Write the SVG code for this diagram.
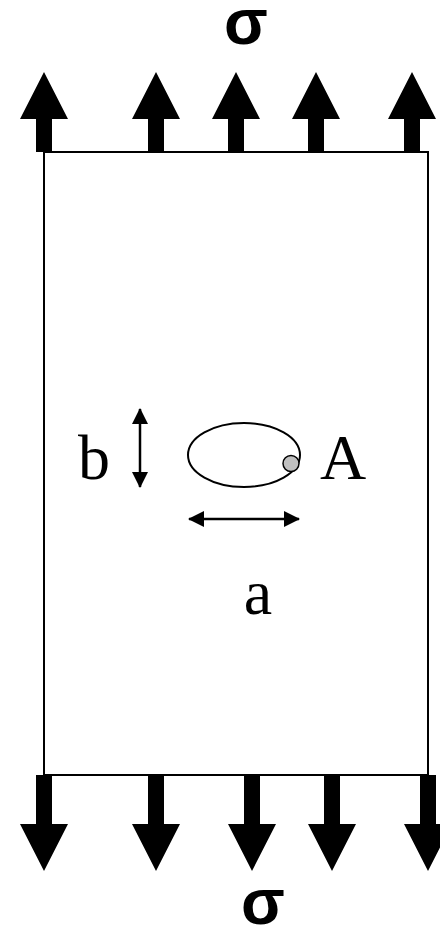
<svg xmlns="http://www.w3.org/2000/svg" width="440" height="926" viewBox="0 0 440 926">
<style>
.ser{font-family:"Liberation Serif","Times New Roman",serif;font-size:64px;fill:#000}
.sig{font-family:"Liberation Sans",Arial,sans-serif;font-weight:bold;font-size:64px;fill:#000;text-anchor:middle}
.dim{stroke:#000;stroke-width:2.5;fill:none}
</style>
<defs>
<path id="up" d="M-8,80 V47 H-24 L0,0 L24,47 H8 V80 Z" fill="#000"/>
<path id="dn" d="M-8,0 V49 H-24 L0,96 L24,49 H8 V0 Z" fill="#000"/>
<marker id="ah" viewBox="0 0 16 16" refX="15" refY="8" markerWidth="16" markerHeight="16" markerUnits="userSpaceOnUse" orient="auto-start-reverse">
<path d="M0,0 L16,8 L0,16 Z" fill="#000"/>
</marker>
</defs>
<g id="plate">
<rect x="44" y="152" width="384" height="623" fill="#fff" stroke="#000" stroke-width="2"/>
</g>
<g id="top-arrows">
<use href="#up" x="44" y="72"/>
<use href="#up" x="156" y="72"/>
<use href="#up" x="236" y="72"/>
<use href="#up" x="316" y="72"/>
<use href="#up" x="412" y="72"/>
</g>
<g id="bottom-arrows">
<use href="#dn" x="44" y="775"/>
<use href="#dn" x="156" y="775"/>
<use href="#dn" x="252" y="775"/>
<use href="#dn" x="332" y="775"/>
<use href="#dn" x="428" y="775"/>
</g>
<g id="hole">
<ellipse cx="244" cy="455" rx="56" ry="32" fill="none" stroke="#000" stroke-width="2"/>
</g>
<g id="pointA">
<circle cx="291" cy="463.5" r="8" fill="#c0c0c0" stroke="#000" stroke-width="1.5"/>
</g>
<g id="connectors">
<line class="dim" x1="140" y1="409" x2="140" y2="487" marker-start="url(#ah)" marker-end="url(#ah)"/>
<line class="dim" x1="189" y1="519" x2="299" y2="519" marker-start="url(#ah)" marker-end="url(#ah)"/>
</g>
<g id="labels">
<text class="sig" x="246" y="44">σ</text>
<text class="sig" x="263" y="924">σ</text>
<text class="ser" x="78" y="479">b</text>
<text class="ser" x="320" y="479">A</text>
<text class="ser" x="258" y="614" text-anchor="middle">a</text>
</g>
</svg>
